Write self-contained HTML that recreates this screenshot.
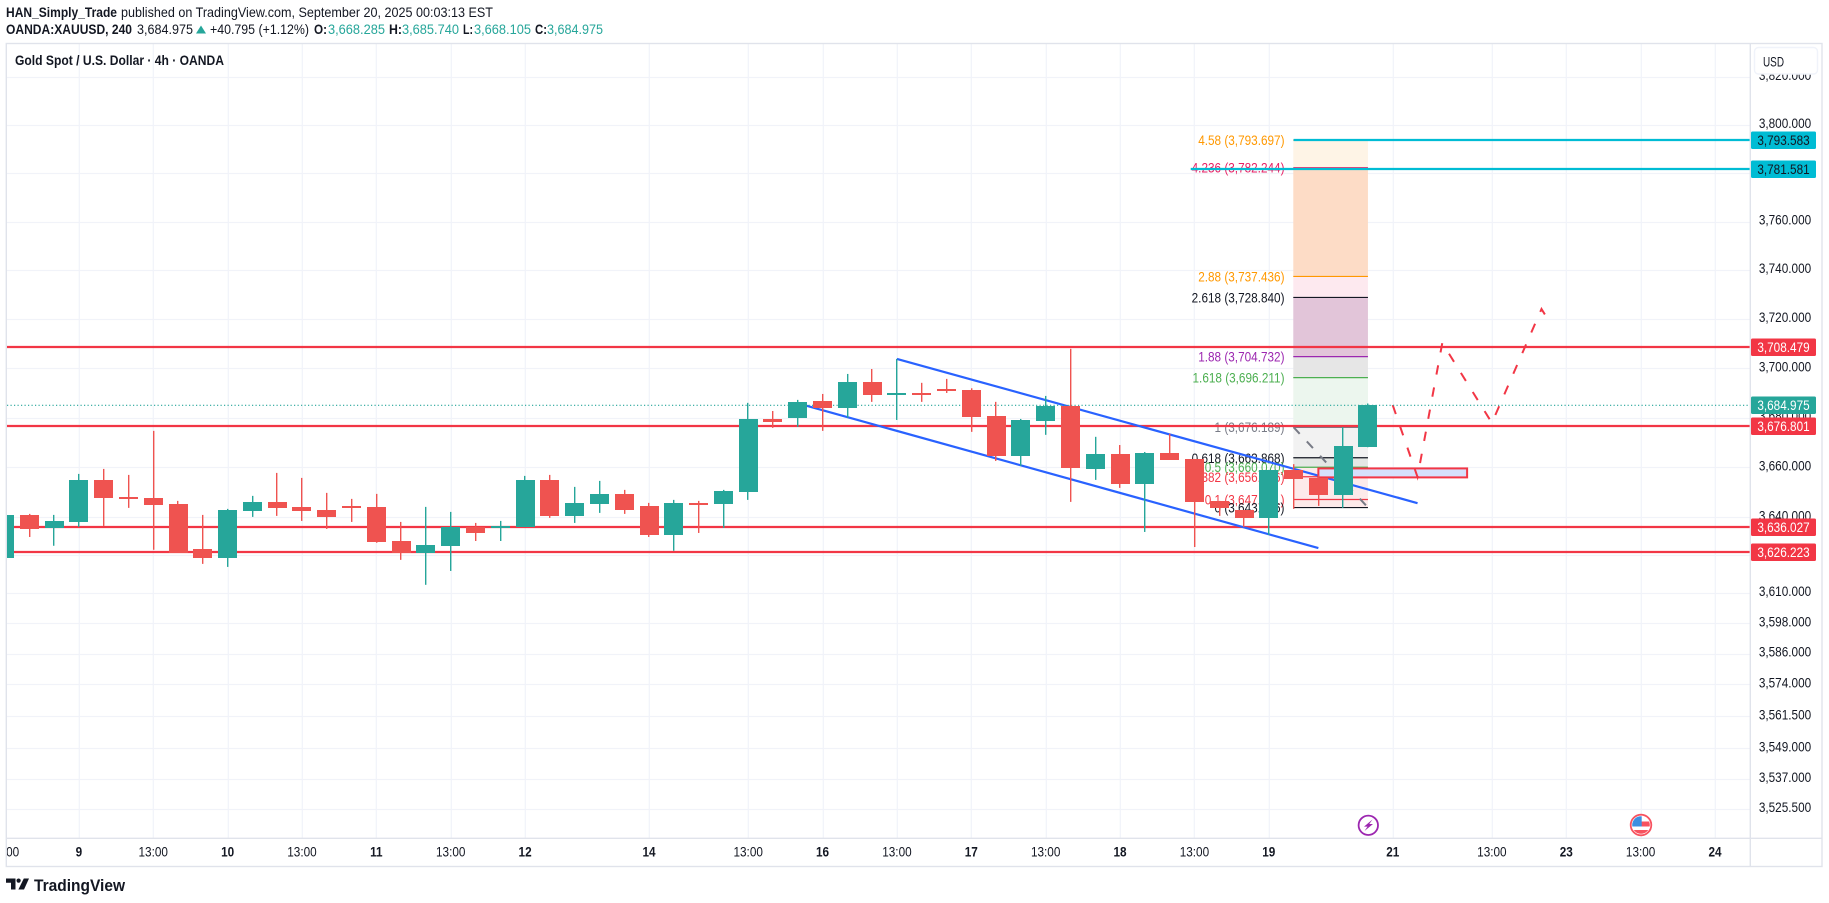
<!DOCTYPE html>
<html lang="en">
<head>
<meta charset="utf-8">
<title>Gold Spot / U.S. Dollar 4h OANDA</title>
<style>
html,body{margin:0;padding:0;background:#fff;width:1829px;height:903px;overflow:hidden}
svg{display:block}
text{font-family:"Liberation Sans",sans-serif;fill:#131722}
</style>
</head>
<body>
<svg id="root" xmlns="http://www.w3.org/2000/svg" width="1829" height="903" viewBox="0 0 1829 903">
  <defs>
    <clipPath id="paneClip"><rect x="7" y="44" width="1743" height="794"/></clipPath>
    <clipPath id="timeClip"><rect x="7" y="839" width="1743" height="27"/></clipPath>
    <clipPath id="scaleClip"><rect x="1751" y="44" width="71" height="794"/></clipPath>
    <clipPath id="flagClip"><circle cx="1641" cy="825" r="8.8"/></clipPath>
  </defs>

  <g id="header">
    <text x="6" y="17" font-size="14" font-weight="bold" textLength="111" lengthAdjust="spacingAndGlyphs">HAN_Simply_Trade</text>
    <text x="121" y="17" font-size="14" textLength="372" lengthAdjust="spacingAndGlyphs">published on TradingView.com, September 20, 2025 00:03:13 EST</text>
    <text x="6" y="34" font-size="14" font-weight="bold" textLength="126" lengthAdjust="spacingAndGlyphs">OANDA:XAUUSD, 240</text>
    <text x="137" y="34" font-size="14" textLength="56" lengthAdjust="spacingAndGlyphs">3,684.975</text>
    <polygon points="201,25.5 206,33.5 196,33.5" fill="#26a69a"/>
    <text x="210" y="34" font-size="14" textLength="99" lengthAdjust="spacingAndGlyphs">+40.795 (+1.12%)</text>
    <text x="314" y="34" font-size="14" font-weight="bold" textLength="13" lengthAdjust="spacingAndGlyphs">O:</text>
    <text x="328" y="34" font-size="14" style="fill:#26a69a" textLength="57" lengthAdjust="spacingAndGlyphs">3,668.285</text>
    <text x="389" y="34" font-size="14" font-weight="bold" textLength="13" lengthAdjust="spacingAndGlyphs">H:</text>
    <text x="402" y="34" font-size="14" style="fill:#26a69a" textLength="57" lengthAdjust="spacingAndGlyphs">3,685.740</text>
    <text x="463" y="34" font-size="14" font-weight="bold" textLength="10" lengthAdjust="spacingAndGlyphs">L:</text>
    <text x="474" y="34" font-size="14" style="fill:#26a69a" textLength="57" lengthAdjust="spacingAndGlyphs">3,668.105</text>
    <text x="535" y="34" font-size="14" font-weight="bold" textLength="12" lengthAdjust="spacingAndGlyphs">C:</text>
    <text x="547" y="34" font-size="14" style="fill:#26a69a" textLength="56" lengthAdjust="spacingAndGlyphs">3,684.975</text>
  </g>

  <g id="grid" clip-path="url(#paneClip)"></g>
  <g id="drawings" clip-path="url(#paneClip)"></g>
  <g id="candles" clip-path="url(#paneClip)"></g>

  <text x="15" y="65" font-size="14" font-weight="bold" textLength="209" lengthAdjust="spacingAndGlyphs">Gold Spot / U.S. Dollar · 4h · OANDA</text>

  <g id="events">
    <g>
      <circle cx="1368.3" cy="825.3" r="9.7" fill="#fff" stroke="#9c27b0" stroke-width="1.8"/>
      <polygon points="1372.5,819.5 1364,826.6 1367.5,826.6 1364.5,831 1373,824 1369.3,824" fill="#9c27b0"/>
    </g>
    <g>
      <circle cx="1641" cy="825" r="10.3" fill="#fff" stroke="#f7525f" stroke-width="1.8"/>
      <g clip-path="url(#flagClip)">
        <rect x="1641" y="821.5" width="10" height="5" fill="#f7525f"/>
        <rect x="1632" y="830" width="18" height="5" fill="#f7525f"/>
        <rect x="1632" y="816" width="9.7" height="10.5" fill="#3d8fe0"/>
      </g>
    </g>
  </g>

  <g id="timeAxis" clip-path="url(#timeClip)"></g>
  <g id="priceAxis" clip-path="url(#scaleClip)"></g>
  <g id="priceTags"></g>

  <g fill="none" stroke="#e0e3eb" stroke-width="1.4">
    <rect x="6.3" y="43.5" width="1815.7" height="823"/>
    <line x1="1750.3" y1="43.5" x2="1750.3" y2="866.5"/>
    <line x1="6.3" y1="838.3" x2="1822" y2="838.3"/>
  </g>

  <g>
    <rect x="1754.5" y="47.5" width="63" height="26.5" rx="4" fill="#fff" stroke="#f0f3fa" stroke-width="1.4"/>
    <text x="1763" y="66.5" font-size="14" textLength="21" lengthAdjust="spacingAndGlyphs">USD</text>
  </g>

  <g>
    <path d="M6 878.5H15.5V889.5H11V882.8H6Z" fill="#131722"/>
    <circle cx="18.6" cy="880.6" r="2.1" fill="#131722"/>
    <polygon points="23.8,878.5 29,878.5 24,889.5 18.4,889.5" fill="#131722"/>
    <text x="34" y="891" font-size="17" font-weight="bold" textLength="91" lengthAdjust="spacingAndGlyphs">TradingView</text>
  </g>
</svg>

<script>
// ---------- chart data ----------
const opens = [3623.9,3641.0,3635.8,3638.2,3655.0,3648.2,3647.8,3645.4,3627.5,3623.9,3642.6,3646.2,3644.2,3643.0,3644.6,3644.2,3630.6,3625.9,3628.7,3636.2,3635.8,3636.2,3655.0,3640.6,3645.4,3649.4,3644.6,3633.0,3645.8,3645.4,3650.2,3679.5,3679.9,3686.8,3684.0,3694.5,3689.2,3690.0,3691.6,3691.2,3680.7,3664.6,3678.7,3684.8,3659.4,3665.4,3653.4,3665.8,3663.4,3646.6,3643.0,3639.8,3659.0,3655.8,3649.0,3668.285];
const highs = [3641.0,3641.4,3641.0,3657.4,3659.4,3657.0,3674.7,3646.6,3641.0,3643.4,3648.6,3657.8,3655.8,3649.8,3647.4,3649.4,3638.2,3644.2,3642.2,3637.8,3638.6,3656.6,3657.0,3652.2,3654.6,3651.0,3645.8,3647.0,3646.6,3651.0,3686.0,3682.7,3687.2,3689.6,3697.7,3699.7,3703.8,3694.1,3695.7,3691.9,3686.4,3679.5,3688.8,3707.9,3672.3,3669.0,3666.2,3673.5,3663.4,3646.6,3643.0,3659.0,3661.3,3657.0,3676.2,3685.74];
const lows = [3623.9,3632.2,3628.7,3636.2,3636.6,3643.8,3627.1,3625.9,3621.5,3620.3,3640.2,3640.6,3638.6,3635.4,3638.2,3629.9,3623.1,3613.2,3618.7,3630.6,3630.6,3636.2,3639.8,3637.8,3641.8,3641.4,3632.2,3626.7,3633.8,3635.8,3647.0,3675.9,3676.3,3674.7,3680.0,3686.4,3679.1,3686.4,3690.0,3674.3,3662.6,3660.6,3673.1,3646.2,3655.0,3651.8,3634.2,3663.0,3628.2,3640.6,3636.1,3633.0,3643.4,3644.6,3643.8,3668.105];
const closes = [3641.0,3635.4,3638.6,3655.0,3647.8,3647.4,3645.0,3625.9,3623.9,3643.0,3646.2,3643.8,3642.6,3640.2,3643.8,3630.2,3625.9,3629.1,3636.2,3633.8,3636.6,3655.0,3640.6,3645.8,3649.4,3643.0,3633.0,3645.8,3645.4,3650.6,3679.5,3678.3,3686.4,3684.0,3694.5,3689.2,3690.0,3689.6,3690.8,3680.3,3664.6,3679.1,3684.8,3659.8,3665.4,3653.4,3665.8,3663.0,3646.2,3643.8,3639.8,3659.0,3655.4,3649.0,3668.7,3684.975];

const priceTicks = [3820,3800,3780,3760,3740,3720,3700,3680,3660,3640,3625,3610,3598,3586,3574,3561.5,3549,3537,3525.5];
const timeTickBars = [0,3,6,9,12,15,18,21,26,30,33,36,39,42,45,48,51,56,60,63,66,69];
const timeTickLabels = ["13:00","9","13:00","10","13:00","11","13:00","12","14","13:00","16","13:00","17","13:00","18","13:00","19","21","13:00","23","13:00","24"];

const redLevels = [3708.479,3676.801,3636.027,3626.223];
const cyanLevels = [3793.583,3781.581];
const cyanStartBars = [52,47.85];
const lastPrice = 3684.975;

const fibRatios = ["4.58","4.236","2.88","2.618","1.88","1.618","1","0.618","0.5","0.382","0.1","0"];
const fibPrices = [3793.697,3782.244,3737.436,3728.840,3704.732,3696.211,3676.189,3663.868,3660.070,3656.256,3647.161,3643.936];
const fibStartBar = 52;
const fibEndBar = 55;
const fibTrendBars = [52,55];
const fibTrendPrices = [3676.189,3643.936];

const channelUpperBars = [36,57];
const channelUpperPrices = [3703.8,3645.7];
const channelLowerBars = [32,53];
const channelLowerPrices = [3685.8,3627.8];

const forecastBars = [56,57,58,60,62,62.2];
const forecastPrices = [3685.1,3656.2,3710.3,3677.9,3724.1,3720.9];

const boxBars = [53,59];
const boxPrices = [3659.6,3656.0];

// ---------- palette ----------
const fibLineColors = ["#ff9800","#e91e63","#ff9800","#131722","#9c27b0","#4caf50","#787b86","#131722","#4caf50","#f23645","#f23645","#131722"];
const fibBandColors = ["#fef4e6","#fddcc6","#fde9ef","#e2c5d9","#e6e6e6","#ecf6ee","#f2f2f2","#e4e7e4","#fdeaea","#fdeaea","#fdeaea"];

// ---------- axis functions ----------
function xOf(bar){ return 4.5 + 24.79 * bar; }
function yOf(price){ return 125 + 9122 * Math.log(3800 / price); }
function fmt(p){ return p.toLocaleString("en-US",{minimumFractionDigits:3,maximumFractionDigits:3}); }

const NS = "http://www.w3.org/2000/svg";
function mk(parent, tag, props){
  const el = document.createElementNS(NS, tag);
  for (const k in props) el.setAttribute(k, props[k]);
  parent.appendChild(el);
  return el;
}
function squeeze(t, factor){
  const w = t.getComputedTextLength();
  t.setAttribute("textLength", (w * factor).toFixed(2));
  t.setAttribute("lengthAdjust", "spacingAndGlyphs");
}

const grid = document.getElementById("grid");
const drawings = document.getElementById("drawings");
const candles = document.getElementById("candles");
const timeAxis = document.getElementById("timeAxis");
const priceAxis = document.getElementById("priceAxis");
const priceTags = document.getElementById("priceTags");

// ---------- grid + axes ----------
priceTicks.forEach(function(p){
  const y = Math.round(yOf(p)) + 0.5;
  const ln = mk(grid, "line", {x1:7, x2:1750, y1:y, y2:y, stroke:"#f1f3f9", "stroke-width":1.2});
  
  
  const t = mk(priceAxis, "text", {x:1785, y:yOf(p)+3, "font-size":14, "text-anchor":"middle"});
  
  
  t.textContent = fmt(p);
  squeeze(t, 0.84);
});
timeTickBars.forEach(function(b, i){
  const x = Math.round(xOf(b)) + 0.3;
  const ln = mk(grid, "line", {x1:x, x2:x, y1:44, y2:838, stroke:"#f1f3f9", "stroke-width":1.2});
  
  
  const isDay = timeTickLabels[i].indexOf(":") < 0;
  const t = mk(timeAxis, "text", {x:xOf(b), y:856.7, "font-size":14, "text-anchor":"middle", "font-weight":isDay?"bold":"normal"});
  
  
  t.textContent = timeTickLabels[i];
  squeeze(t, 0.84);
});

// ---------- fib extension ----------
const fx1 = xOf(fibStartBar) - 0.3;
const fx2 = xOf(fibEndBar);
fibBandColors.forEach(function(c, i){
  const y1 = yOf(fibPrices[i]);
  const y2 = yOf(fibPrices[i+1]);
  const r = mk(drawings, "rect", {x:fx1, y:y1, width:fx2-fx1, height:y2-y1, fill:c});
  
  
});
fibPrices.forEach(function(p, i){
  const y = yOf(p);
  const ln = mk(drawings, "line", {x1:fx1, x2:fx2, y1:y, y2:y, stroke:fibLineColors[i], "stroke-width":fibRatios[i]==="1"?1.6:1.2});
  
  
  const t = mk(drawings, "text", {x:1284.5, y:y+5, "font-size":14, "text-anchor":"end", style:"fill:"+fibLineColors[i]});
  
  
  t.textContent = fibRatios[i] + " (" + fmt(p) + ")";
  squeeze(t, 0.84);
});
const fibTrend = mk(drawings, "line", {
  x1:xOf(fibTrendBars[0]), y1:yOf(fibTrendPrices[0]),
  x2:xOf(fibTrendBars[1]), y2:yOf(fibTrendPrices[1]),
  stroke:"#787b86", "stroke-width":2, "stroke-dasharray":"9 10.5"
});



// ---------- horizontal levels ----------
redLevels.forEach(function(p){
  const y = Math.round(yOf(p));
  const ln = mk(drawings, "line", {x1:7, x2:1750, y1:y, y2:y, stroke:"#f23645", "stroke-width":2.2});
  
  
});
cyanLevels.forEach(function(p, i){
  const y = Math.round(yOf(p));
  const ln = mk(drawings, "line", {x1:xOf(cyanStartBars[i]), x2:1750, y1:y, y2:y, stroke:"#00bcd4", "stroke-width":2.2});
  
  
});

// ---------- channel ----------
[[channelUpperBars,channelUpperPrices],[channelLowerBars,channelLowerPrices]].forEach(function(c){
  const ln = mk(drawings, "line", {x1:xOf(c[0][0]), y1:yOf(c[1][0]), x2:xOf(c[0][1]), y2:yOf(c[1][1]), stroke:"#2962ff", "stroke-width":2.2});
  
  
});

// ---------- zone box ----------
const box = mk(drawings, "rect", {
  x:xOf(boxBars[0]), y:yOf(boxPrices[0]),
  width:xOf(boxBars[1])-xOf(boxBars[0]), height:yOf(boxPrices[1])-yOf(boxPrices[0]),
  fill:"#d6dffb", stroke:"#f23645", "stroke-width":2
});



// ---------- forecast path ----------
const forecastPoints = forecastBars.map(function(b, i){ return xOf(b).toFixed(1) + "," + yOf(forecastPrices[i]).toFixed(1); }).join(" ");
const forecast = mk(drawings, "polyline", {points:forecastPoints, fill:"none", stroke:"#f23645", "stroke-width":2, "stroke-dasharray":"9.5 13"});



// ---------- last price line ----------
const lastY = Math.round(yOf(lastPrice)) + 0.3;
const lastLine = mk(drawings, "line", {x1:7, x2:1750, y1:lastY, y2:lastY, stroke:"#26a69a", "stroke-width":1.1, "stroke-dasharray":"1.2 2.3"});



// ---------- candles ----------
opens.forEach(function(o, i){
  const c = closes[i];
  const colour = c >= o ? "#26a69a" : "#ef5350";
  const x = xOf(i);
  const wick = mk(candles, "rect", {x:Math.round(x-0.7), width:1.4, y:yOf(highs[i]), height:Math.max(0, yOf(lows[i])-yOf(highs[i])), fill:colour});
  
  
  const top = Math.round(yOf(Math.max(o, c)));
  const bottom = Math.round(yOf(Math.min(o, c)));
  const body = mk(candles, "rect", {x:Math.round(x-9.5), width:19, y:top, height:Math.max(2, bottom-top), fill:colour});
  
  
});

// ---------- price tags ----------
function tag(p, bg, fg){
  const y = Math.round(yOf(p));
  const r = mk(priceTags, "rect", {x:1751, y:y-8.5, width:65, height:17.5, rx:1.5, fill:bg});
  
  
  const t = mk(priceTags, "text", {x:1783.5, y:y+5, "font-size":14, "text-anchor":"middle", style:"fill:"+fg});
  
  
  t.textContent = fmt(p);
  squeeze(t, 0.84);
}
cyanLevels.forEach(function(p){ tag(p, "#00bcd4", "#131722"); });
redLevels.forEach(function(p){ tag(p, "#f23645", "#ffffff"); });
tag(lastPrice, "#26a69a", "#ffffff");
</script>
</body>
</html>
